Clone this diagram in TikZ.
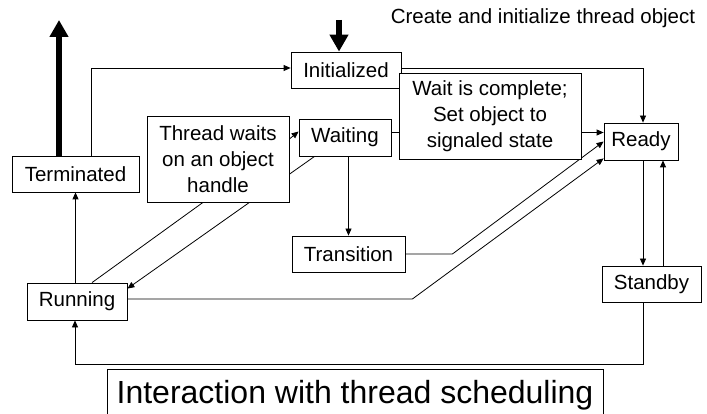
\documentclass[tikz,border=0pt]{standalone}
\usepackage{fontspec}
\setmainfont{Liberation Sans}
\usetikzlibrary{positioning,calc,arrows.meta}
\tikzset{>={Triangle[length=7pt,width=6pt]}}
\tikzset{
  state/.style={draw,fill=white,line width=0.8pt,inner sep=0pt,font=\fontsize{20.5}{26}\selectfont},
  link/.style={line width=0.8pt,->},
  bigarrow/.style={line width=6pt,-{Triangle[length=17pt,width=18pt]}},
}

\begin{document}
\begin{tikzpicture}[x=1pt,y=-1pt]
\useasboundingbox (0,0) rectangle (707,414);
% thread states
\node[state,minimum width=127pt,minimum height=36pt] (term) at (75.5,174) {Terminated};
\node[state,minimum width=110pt,minimum height=36pt] (init) at (346,70) {Initialized};
\node[state,minimum width=92pt,minimum height=37pt] (wait) at (345,137.5) {Waiting};
\node[state,minimum width=74pt,minimum height=37pt] (ready) at (641,141.5) {Ready};
\node[state,minimum width=113pt,minimum height=36pt] (trans) at (348.5,254) {Transition};
\node[state,minimum width=100pt,minimum height=37pt] (run) at (77,301.5) {Running};
\node[state,minimum width=99pt,minimum height=36pt] (standby) at (651.5,284) {Standby};
\node[font=\fontsize{20.5}{26}\selectfont] (create) at (543,18) {Create and initialize thread object};
\node[draw,line width=0.8pt,minimum width=496pt,minimum height=52pt,
  font=\fontsize{32}{38}\selectfont] (sched) at (355,395) {Interaction with thread scheduling};

% entry and exit
\coordinate (gone) at (59,20);
\coordinate (born) at (339,20);
\draw[bigarrow] (term.north -| gone) -- (gone);
\draw[bigarrow] (born) -- (init.north -| born);

% transitions
\coordinate (rdy1) at ([yshift=9pt]ready.west);
\coordinate (dn) at ([xshift=2pt]ready.south);
\coordinate (up) at ([xshift=22pt]ready.south);
\draw[link] ([xshift=15.5pt]term.north) |- ([yshift=2pt]init.west);
\draw[link] ([yshift=2pt]init.east) -| ([xshift=2pt]ready.north);
\draw[link] (wait.east |- rdy1) -- (rdy1);
\draw[link] ([xshift=16pt]wait.south west) -- ([yshift=-6pt]run.north east);
\draw[link] (trans.north |- wait.south) -- (trans.north);
\draw[link] (trans.east) -- ++(47,0) -- (ready.west);
\draw[link] ([yshift=2.5pt]run.east) -- ++(285,0) -- ([yshift=2pt]ready.south west);
\draw[link] (dn) -- (dn |- standby.north);
\draw[link] (up |- standby.north) -- (up);
\draw[link] (dn |- standby.south) -- ++(0,62) -| ([xshift=-2pt]run.south);
\draw[link] (term.south |- run.north) -- (term.south);

% labels on the wait transitions
\node[state,minimum width=142pt,minimum height=86pt,align=center] (waits) at (218,159)
  {Thread waits\\on an object\\handle};
\node[state,minimum width=182pt,minimum height=86pt,align=center] (done) at (490,116)
  {Wait is complete;\\Set object to\\signaled state};
\draw[link] ([yshift=20pt]waits.east) -- ([yshift=6pt]wait.west);
\draw[line width=0.8pt] ([xshift=15pt]run.north) -- ([xshift=-15pt]waits.south);
\end{tikzpicture}
\end{document}
